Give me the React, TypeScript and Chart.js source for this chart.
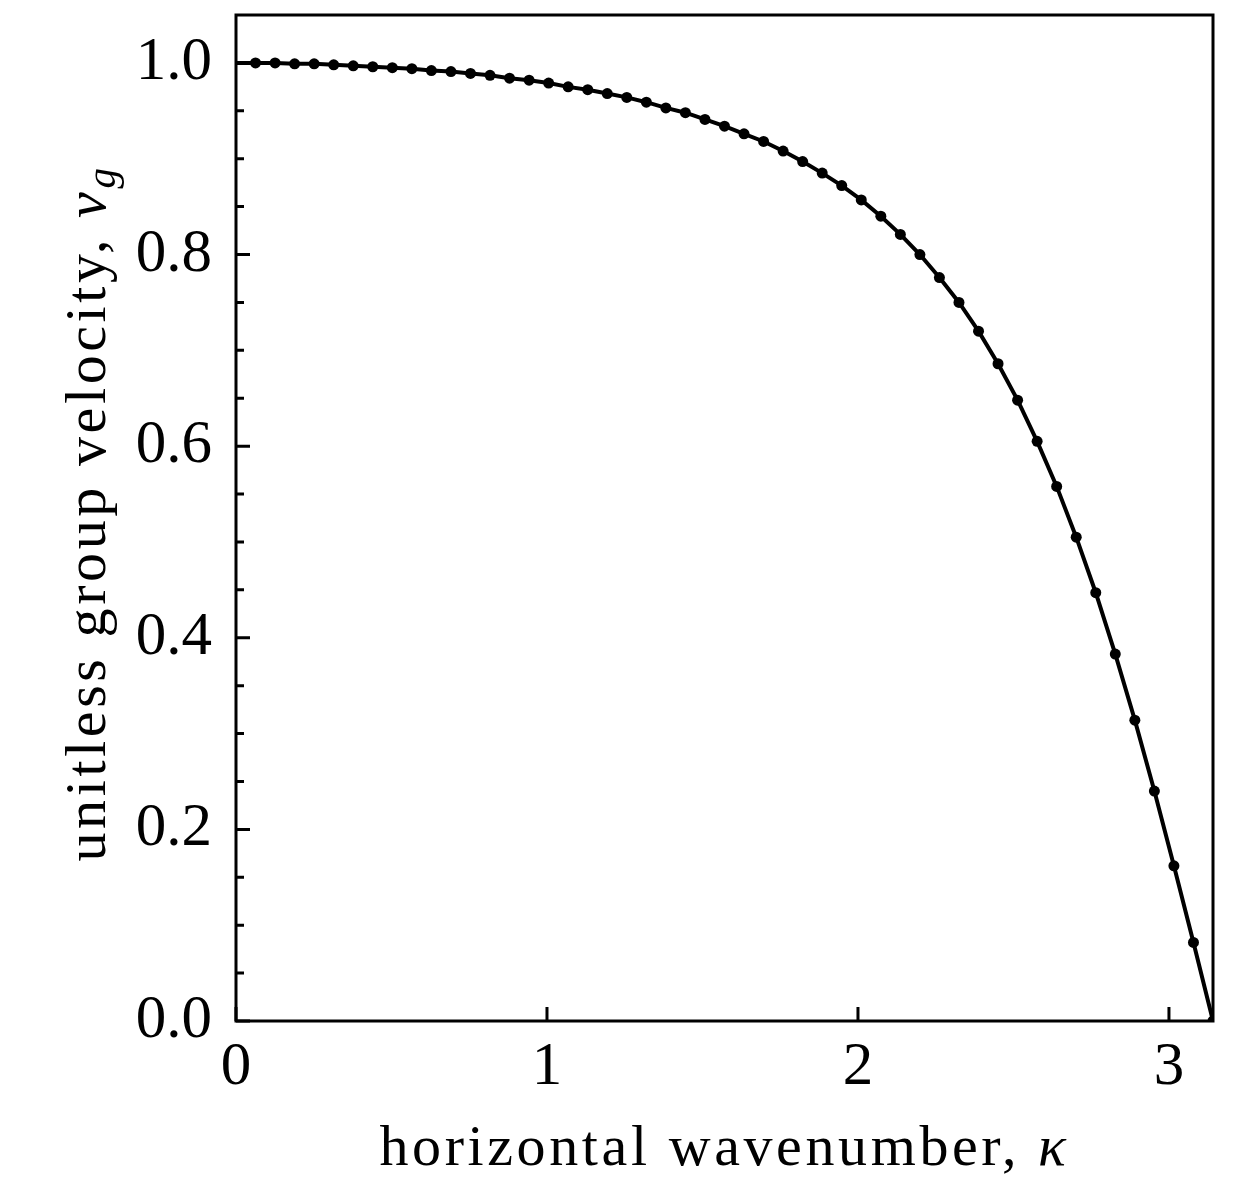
import React, { useEffect, useRef } from "react";
import { Chart, registerables } from "chart.js";

Chart.register(...registerables);

// horizontal wavenumber kappa (x) and unitless group velocity v_g (y)
const KAPPA = [
  0, 0.0628, 0.1257, 0.1885, 0.2513, 0.3142, 0.377, 0.4398, 0.5027, 0.5655,
  0.6283, 0.6912, 0.754, 0.8168, 0.8796, 0.9425, 1.0053, 1.0681, 1.131, 1.1938,
  1.2566, 1.3195, 1.3823, 1.4451, 1.508, 1.5708, 1.6336, 1.6965, 1.7593, 1.8221,
  1.885, 1.9478, 2.0106, 2.0735, 2.1363, 2.1991, 2.2619, 2.3248, 2.3876, 2.4504,
  2.5133, 2.5761, 2.6389, 2.7018, 2.7646, 2.8274, 2.8903, 2.9531, 3.0159, 3.0788,
  3.1416,
];
const VG = [
  1.0, 1.0, 1.0, 0.999, 0.999, 0.998, 0.997, 0.996, 0.995, 0.994,
  0.992, 0.991, 0.989, 0.987, 0.984, 0.982, 0.979, 0.975, 0.972, 0.968,
  0.964, 0.959, 0.953, 0.948, 0.941, 0.934, 0.926, 0.918, 0.908, 0.897,
  0.885, 0.872, 0.857, 0.84, 0.821, 0.8, 0.776, 0.75, 0.72, 0.686,
  0.648, 0.605, 0.558, 0.505, 0.447, 0.383, 0.314, 0.24, 0.162, 0.082,
  0.0,
];

const X_MIN = 0;
const X_MAX = 3.1416;
const Y_MIN = 0;
const Y_MAX = 1.05;
const X_TICKS = [0, 1, 2, 3];
const X_TICK_LABELS = ["0", "1", "2", "3"];
const Y_TICKS = [0, 0.2, 0.4, 0.6, 0.8, 1.0];
const Y_TICK_LABELS = ["0.0", "0.2", "0.4", "0.6", "0.8", "1.0"];
const Y_MINOR_TICKS = [0.05, 0.1, 0.15, 0.25, 0.3, 0.35, 0.45, 0.5, 0.55, 0.65, 0.7, 0.75, 0.85, 0.9, 0.95];

const X_TITLE = "horizontal wavenumber, ";
const X_TITLE_SYMBOL = "κ";
const Y_TITLE = "unitless group velocity, ";
const Y_TITLE_SYMBOL = "v";
const Y_TITLE_SUB = "g";

const FONT = '"Liberation Serif", "Times New Roman", serif';
const TICK_SIZE = 61;
const TITLE_SIZE = 58;
const TITLE_SPACING = "3.6px";

type Part = { text: string; font: string; dy: number };

function drawParts(ctx: CanvasRenderingContext2D, parts: Part[], cx: number, baseline: number) {
  let total = 0;
  const widths = parts.map((p) => {
    ctx.font = p.font;
    const w = ctx.measureText(p.text).width;
    total += w;
    return w;
  });
  let x = cx - total / 2;
  parts.forEach((p, i) => {
    ctx.font = p.font;
    ctx.fillText(p.text, x, baseline + p.dy);
    x += widths[i];
  });
}

const framePlugin = {
  id: "frameAndTitles",
  afterDraw(chart: any) {
    const { ctx, chartArea: a, scales } = chart;
    const xs = scales.x;
    const ys = scales.y;
    ctx.save();
    ctx.strokeStyle = "#000";
    ctx.fillStyle = "#000";
    ctx.lineWidth = 3;
    ctx.lineCap = "butt";
    ctx.beginPath();
    X_TICKS.forEach((v) => {
      const px = xs.getPixelForValue(v);
      ctx.moveTo(px, a.bottom);
      ctx.lineTo(px, a.bottom - 14);
    });
    Y_TICKS.forEach((v) => {
      const py = ys.getPixelForValue(v);
      ctx.moveTo(a.left, py);
      ctx.lineTo(a.left + 14, py);
    });
    Y_MINOR_TICKS.forEach((v) => {
      const py = ys.getPixelForValue(v);
      ctx.moveTo(a.left, py);
      ctx.lineTo(a.left + 8, py);
    });
    ctx.stroke();
    ctx.strokeRect(a.left, a.top, a.right - a.left, a.bottom - a.top);

    // axis titles
    ctx.textAlign = "left";
    ctx.textBaseline = "alphabetic";
    try {
      (ctx as any).letterSpacing = TITLE_SPACING;
    } catch (e) {}
    const reg = `${TITLE_SIZE}px ${FONT}`;
    const ital = `italic ${TITLE_SIZE}px ${FONT}`;
    const sub = `italic ${Math.round(TITLE_SIZE * 0.7)}px ${FONT}`;
    drawParts(
      ctx,
      [
        { text: X_TITLE, font: reg, dy: 0 },
        { text: X_TITLE_SYMBOL, font: ital, dy: 0 },
      ],
      (a.left + a.right) / 2,
      1165
    );
    ctx.save();
    ctx.translate(105, 513);
    ctx.rotate(-Math.PI / 2);
    drawParts(
      ctx,
      [
        { text: Y_TITLE, font: reg, dy: 0 },
        { text: Y_TITLE_SYMBOL, font: ital, dy: 0 },
        { text: Y_TITLE_SUB, font: sub, dy: 10 },
      ],
      0,
      0
    );
    ctx.restore();
    ctx.restore();
  },
};

export default function App() {
  const canvasRef = useRef<HTMLCanvasElement | null>(null);

  useEffect(() => {
    const canvas = canvasRef.current;
    if (!canvas) return;
    Chart.defaults.color = "#000";
    Chart.defaults.font.family = FONT;

    const lineData = KAPPA.map((k, i) => ({ x: k, y: VG[i] }));
    const pointData = KAPPA.slice(1).map((k, i) => ({ x: k, y: VG[i + 1] }));

    const chart = new Chart(canvas, {
      type: "scatter",
      data: {
        datasets: [
          {
            type: "line",
            data: lineData,
            borderColor: "#000",
            borderWidth: 4,
            pointRadius: 0,
            fill: false,
            tension: 0,
            showLine: true,
            clip: 0,
          } as any,
          {
            type: "scatter",
            data: pointData,
            backgroundColor: "#000",
            borderColor: "#000",
            borderWidth: 0,
            pointRadius: 5.5,
            clip: 0,
          } as any,
        ],
      },
      options: {
        animation: false,
        responsive: false,
        devicePixelRatio: 1,
        layout: { padding: { top: 15, right: 21, left: 0, bottom: 0 } },
        plugins: {
          legend: { display: false },
          tooltip: { enabled: false },
          title: { display: false },
        },
        scales: {
          x: {
            type: "linear",
            min: X_MIN,
            max: X_MAX,
            afterBuildTicks: (s: any) => {
              s.ticks = X_TICKS.map((v) => ({ value: v }));
            },
            afterFit: (s: any) => {
              s.height = 156;
              s.paddingLeft = 0;
              s.paddingRight = 0;
            },
            ticks: {
              autoSkip: false,
              maxRotation: 0,
              padding: 10,
              color: "#000",
              font: { family: FONT, size: TICK_SIZE },
              callback: (v: any) => X_TICK_LABELS[X_TICKS.indexOf(Number(v))] ?? "",
            },
            grid: { display: false, drawTicks: false },
            border: { display: false },
          },
          y: {
            type: "linear",
            min: Y_MIN,
            max: Y_MAX,
            afterBuildTicks: (s: any) => {
              s.ticks = Y_TICKS.map((v) => ({ value: v }));
            },
            afterFit: (s: any) => {
              s.width = 236;
              s.paddingTop = 0;
              s.paddingBottom = 0;
            },
            ticks: {
              autoSkip: false,
              padding: 24,
              color: "#000",
              font: { family: FONT, size: TICK_SIZE },
              callback: (v: any) => {
                const i = Y_TICKS.findIndex((t) => Math.abs(t - Number(v)) < 1e-9);
                return i >= 0 ? Y_TICK_LABELS[i] : "";
              },
            },
            grid: { display: false, drawTicks: false },
            border: { display: false },
          },
        },
      },
      plugins: [framePlugin],
    });
    return () => chart.destroy();
  }, []);

  return (
    <div style={{ position: "absolute", left: 0, top: 0, width: 1234, height: 1177, background: "#fff" }}>
      <canvas ref={canvasRef} width={1234} height={1177} style={{ width: 1234, height: 1177, display: "block" }} />
    </div>
  );
}
